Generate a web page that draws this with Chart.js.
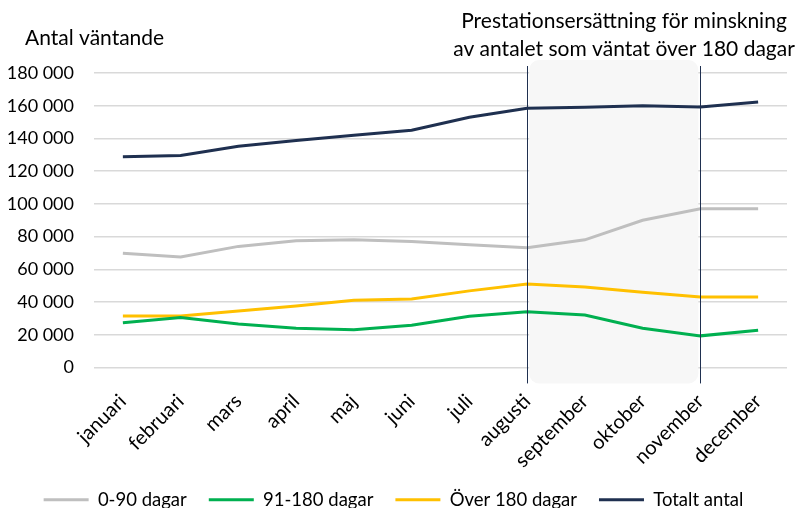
<!DOCTYPE html>
<html>
<head>
<meta charset="utf-8">
<script src="https://cdn.jsdelivr.net/npm/chart.js@4"></script>
<style>
  body { margin: 0; background: #fff; }
  #wrap { width: 799px; height: 508px; }
</style>
</head>
<body>
<div id="wrap"><canvas id="chart" width="799" height="508"></canvas></div>
<script>
// Antal väntande per månad

const months = ['januari', 'februari', 'mars', 'april', 'maj', 'juni', 'juli',
    'augusti', 'september', 'oktober', 'november', 'december'];
const yTicks = [0, 20000, 40000, 60000, 80000, 100000, 120000, 140000, 160000, 180000];

const dagar0_90 = [69800, 67500, 74000, 77500, 78000, 77000, 75000, 73200, 78000, 90000, 97000, 97000];
const dagar91_180 = [27300, 30500, 26500, 24000, 23000, 25800, 31300, 34000, 32000, 24000, 19300, 22700];
const over180 = [31500, 31500, 34500, 37500, 41000, 41800, 46800, 51000, 49200, 46000, 43000, 43000];
const totalt = [128800, 129500, 135200, 138800, 142000, 145000, 153000, 158500, 159000, 160000, 159200, 162300];

// period med prestationsersättning
const periodStart = 'augusti';
const periodEnd = 'november';
const periodText = ['Prestationsersättning för minskning', 'av antalet som väntat över 180 dagar'];

const FONT = 'Lato, "Open Sans", sans-serif';

function formatNumber(v) {
    return String(v).replace(/\B(?=(\d{3})+(?!\d))/g, ' ');
}

// shaded box + vertical lines + texts
const periodPlugin = {
    id: 'period',
    beforeDatasetsDraw(chart) {
        const ctx = chart.ctx;
        const x = chart.scales.x;
        const area = chart.chartArea;
        const x1 = x.getPixelForValue(months.indexOf(periodStart));
        const x2 = x.getPixelForValue(months.indexOf(periodEnd));
        const top = area.top - 13;
        const bottom = area.bottom + 16;

        ctx.save();
        ctx.fillStyle = '#F7F7F7';
        ctx.beginPath();
        ctx.roundRect(x1 + 2, top, x2 - x1 - 4, bottom - top, 10);
        ctx.fill();
        ctx.restore();
    },
    afterDatasetsDraw(chart) {
        const ctx = chart.ctx;
        const x = chart.scales.x;
        const area = chart.chartArea;
        const x1 = x.getPixelForValue(months.indexOf(periodStart));
        const x2 = x.getPixelForValue(months.indexOf(periodEnd));

        ctx.save();
        ctx.strokeStyle = '#1F3050';
        ctx.lineWidth = 1;
        [x1, x2].forEach(px => {
            ctx.beginPath();
            ctx.moveTo(Math.round(px) + 0.5, area.top - 7);
            ctx.lineTo(Math.round(px) + 0.5, area.bottom + 16);
            ctx.stroke();
        });

        ctx.fillStyle = '#000';
        ctx.font = '21px ' + FONT;
        ctx.textAlign = 'center';
        ctx.textBaseline = 'middle';
        ctx.fillText(periodText[0], 624, 21);
        ctx.fillText(periodText[1], 624, 49);

        ctx.textAlign = 'left';
        ctx.fillText('Antal väntande', 25, 38);
        ctx.restore();
    }
};

function lineSet(label, data, color) {
    return {
        label: label,
        data: data,
        borderColor: color,
        backgroundColor: color,
        borderWidth: 3,
        pointRadius: 0,
        tension: 0,
        fill: false
    };
}

new Chart(document.getElementById('chart'), {
    type: 'line',
    data: {
        labels: months,
        datasets: [
            lineSet('0-90 dagar', dagar0_90, '#BFBFBF'),
            lineSet('91-180 dagar', dagar91_180, '#00B050'),
            lineSet('Över 180 dagar', over180, '#FFC000'),
            lineSet('Totalt antal', totalt, '#1F3050')
        ]
    },
    options: {
        responsive: false,
        animation: false,
        layout: { padding: { top: 73, right: 12, left: 0, bottom: -11 } },
        scales: {
            x: {
                offset: true,
                grid: { display: false },
                border: { display: false },
                afterFit(axis) {
                    axis.height -= 18;
                },
                ticks: {
                    color: '#000',
                    font: { family: FONT, size: 20 },
                    minRotation: 45,
                    maxRotation: 45,
                    padding: 14
                }
            },
            y: {
                min: 0,
                max: 180000,
                afterBuildTicks(axis) {
                    axis.ticks = yTicks.map(v => ({ value: v }));
                },
                afterFit(axis) {
                    axis.width = 94;
                },
                grid: { color: '#D9D9D9', lineWidth: 1.5, drawTicks: false },
                border: { display: false },
                ticks: {
                    color: '#000',
                    font: { family: FONT, size: 18 },
                    padding: 20,
                    callback: v => formatNumber(v)
                }
            }
        },
        plugins: {
            legend: {
                position: 'bottom',
                labels: {
                    usePointStyle: true,
                    pointStyle: 'line',
                    pointStyleWidth: 45,
                    boxWidth: 45,
                    color: '#000',
                    font: { family: FONT, size: 18.5 },
                    padding: 22
                }
            },
            tooltip: { enabled: false }
        }
    },
    plugins: [periodPlugin]
});
</script>
</body>
</html>
